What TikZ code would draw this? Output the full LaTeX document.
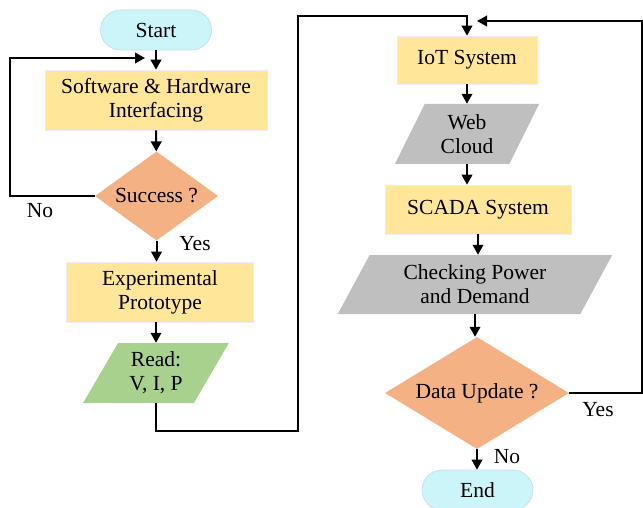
\documentclass[tikz,border=0pt]{standalone}
\usepackage{fontspec}
\setmainfont{Liberation Serif}
\usetikzlibrary{shapes.geometric,arrows.meta}
\definecolor{termfill}{HTML}{CCF5FA}
\definecolor{termline}{HTML}{BFDDEB}
\definecolor{procfill}{HTML}{FFE699}
\definecolor{procline}{HTML}{E6EEF6}
\definecolor{iofill}{HTML}{A9D18E}
\definecolor{greyfill}{HTML}{BFBFBF}
\definecolor{decfill}{HTML}{F4B183}
\begin{document}
\begin{tikzpicture}[x=1pt,y=-1pt,
  base/.style={align=center,font=\fontsize{21.5}{24}\selectfont,inner sep=2pt,text=black},
  terminal/.style={base,rectangle,rounded corners=20pt,fill=termfill,draw=termline,line width=0.6pt,minimum width=111pt,minimum height=40pt},
  process/.style={base,rectangle,fill=procfill,draw=procline,line width=0.6pt},
  io/.style={base,trapezium,trapezium stretches=true,inner sep=1pt},
  decision/.style={base,diamond,fill=decfill,inner sep=0pt,aspect=1.5},
  lbl/.style={font=\fontsize{21.5}{24}\selectfont,inner sep=0pt},
  flow/.style={line width=2pt,-{Triangle[width=10.5pt,length=10pt]}}]
\useasboundingbox (0,0) rectangle (643,508);

% left column
\node[terminal] (start) at (156,30) {Start};
\node[process,minimum width=222pt,minimum height=60pt] (soft) at (156,100) {Software \& Hardware\\Interfacing};
\node[decision,minimum width=123pt,minimum height=89pt] (succ) at (156.5,196) {Success ?};
\node[process,minimum width=187pt,minimum height=60pt] (exp) at (160,292) {Experimental\\Prototype};
\node[io,fill=iofill,trapezium left angle=60,trapezium right angle=120,minimum width=146pt,minimum height=60pt] (read) at (156,373) {Read:\\V, I, P};

% right column
\node[process,minimum width=140pt,minimum height=48pt] (iot) at (467,60) {IoT System};
\node[io,fill=greyfill,trapezium left angle=65,trapezium right angle=115,minimum width=145pt,minimum height=60pt] (web) at (467,134) {Web\\Cloud};
\node[process,minimum width=186pt,minimum height=49pt] (scada) at (478,209.5) {SCADA System};
\node[io,fill=greyfill,trapezium left angle=62,trapezium right angle=118,minimum width=275pt,minimum height=59pt] (check) at (475,284.5) {Checking Power\\and Demand};
\node[decision,minimum width=184pt,minimum height=112pt] (data) at (477,393) {Data Update ?};
\node[terminal] (end) at (477.5,490) {End};

% branch labels
\node[lbl] (noA) at (40,211) {No};
\node[lbl] (yesA) at (195,244) {Yes};
\node[lbl] (yesB) at (598,410) {Yes};
\node[lbl] (noB) at (507,457) {No};

% routing points
\coordinate (loopin) at (145,58);
\coordinate (busL) at (298,431);
\coordinate (topL) at (298,16);
\coordinate (fbR) at (642,21);
\coordinate (fbIn) at (477,21);

% connectors, left column
\draw[flow] (start) -- (soft);
\draw[flow] (soft) -- (succ);
\draw[flow] (succ.south) -- (succ.south |- exp.north);
\draw[flow] (read.north |- exp.south) -- (read.north);
\draw[flow] (succ.west) -- ++(-85,0) |- (loopin);

% link to the right column
\draw[flow] (read.south) |- (busL) -- (topL) -| (iot.north);

% connectors, right column
\draw[flow] (iot.south) -- (iot.south |- web.north);
\draw[flow] (web.south) -- (web.south |- scada.north);
\draw[flow] (scada.south) -- (scada.south |- check.north);
\draw[flow] (check.south) -- (check.south |- data.north);
\draw[flow] (data.south) -- (data.south |- end.north);
\draw[flow] (data.east) -| (fbR) -- (fbIn);
\end{tikzpicture}
\end{document}
